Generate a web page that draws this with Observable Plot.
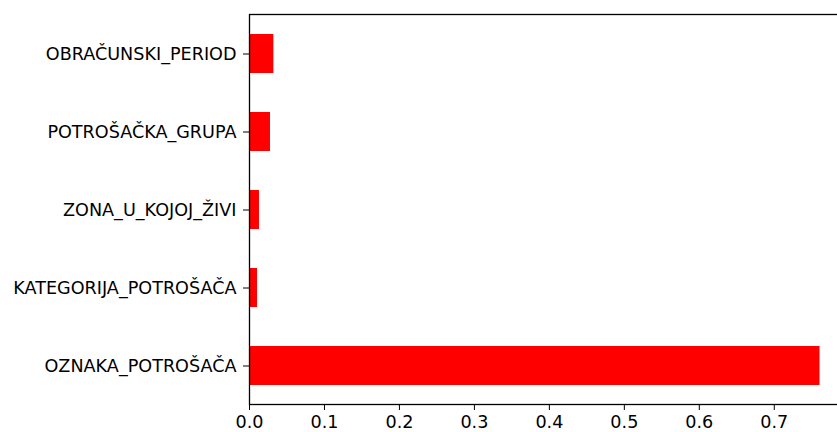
<!DOCTYPE html>
<html>
<head>
<meta charset="utf-8">
<script src="https://cdn.jsdelivr.net/npm/d3@7"></script>
<script src="https://cdn.jsdelivr.net/npm/@observablehq/plot@0.6"></script>
<style>
  html, body { margin: 0; padding: 0; background: white; }
  #wrap { width: 837px; height: 432px; overflow: hidden; }
  #wrap svg { max-width: none !important; width: 848px; height: 432px; }
</style>
</head>
<body>
<div id="wrap"></div>
<script>
const features = ["OBRAČUNSKI_PERIOD", "POTROŠAČKA_GRUPA", "ZONA_U_KOJOJ_ŽIVI", "KATEGORIJA_POTROŠAČA", "OZNAKA_POTROŠAČA"];
const importance = [0.0325, 0.028, 0.0133, 0.0107, 0.761];
const xTicks = [0, 0.1, 0.2, 0.3, 0.4, 0.5, 0.6, 0.7];

const data = features.map((f, i) => ({feature: f, value: importance[i]}));

const chart = Plot.plot({
  width: 848,
  height: 432,
  marginLeft: 249,
  marginRight: 0,
  marginTop: 14,
  marginBottom: 28,
  style: {fontFamily: "DejaVu Sans", fontSize: "17.6px", color: "black", background: "white", maxWidth: "none"},
  x: {domain: [0, 0.799], ticks: xTicks, tickFormat: d3.format(".1f"), tickSize: 6, tickPadding: 5, label: null},
  y: {domain: features, paddingInner: 0.5, paddingOuter: 0.25, tickSize: 6, tickPadding: 7, label: null},
  marks: [
    Plot.barX(data, {x: "value", y: "feature", fill: "#ff0000"}),
    Plot.frame({stroke: "black", strokeWidth: 1.3})
  ]
});
document.getElementById("wrap").appendChild(chart);
</script>
</body>
</html>
